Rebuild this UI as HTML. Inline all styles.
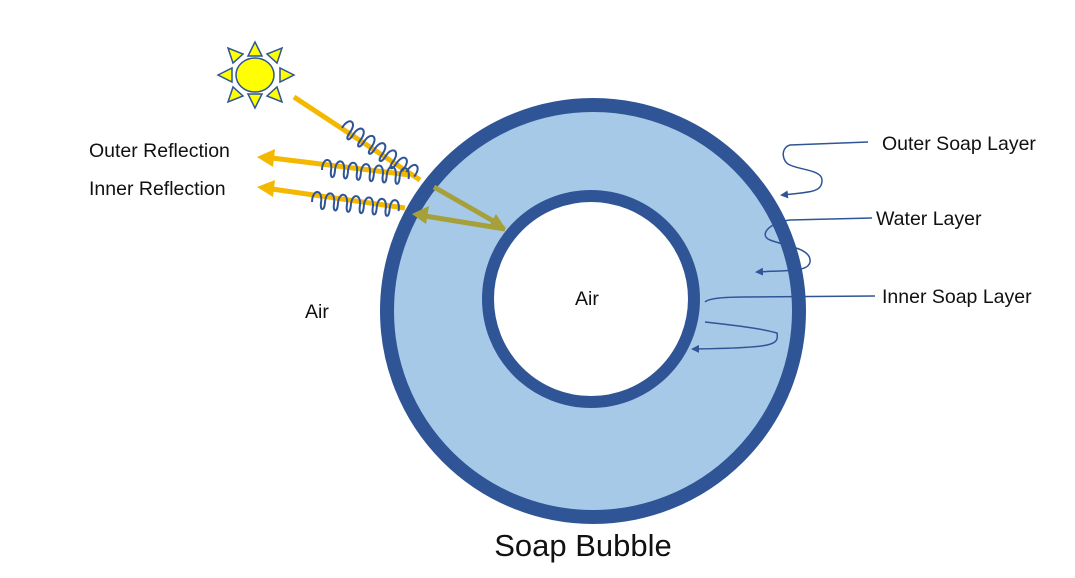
<!DOCTYPE html>
<html><head><meta charset="utf-8"><style>body{margin:0;background:#fff}svg{display:block}text{font-family:"Liberation Sans",sans-serif;fill:#111}</style></head>
<body>
<svg width="1075" height="578" viewBox="0 0 1075 578">
<defs>
<marker id="ab" markerWidth="8" markerHeight="8" refX="6" refY="4" orient="auto" markerUnits="userSpaceOnUse"><path d="M0,0 L8,4 L0,8 z" fill="#2f5597"/></marker>
<path id="wv" d="M0,0 c-1,-14 10,-14 9,0 c0,8 4,8 4,0 c-1,-14 10,-14 9,0 c0,8 4,8 4,0 c-1,-14 10,-14 9,0 c0,8 4,8 4,0 c-1,-14 10,-14 9,0 c0,8 4,8 4,0 c-1,-14 10,-14 9,0 c0,8 4,8 4,0 c-1,-14 10,-14 9,0 c0,8 4,8 4,0 c-1,-14 10,-14 9,0" fill="none" stroke="#2f5597" stroke-width="2"/>
</defs>
<circle cx="593" cy="311" r="206" fill="#a6c9e8" stroke="#2f5597" stroke-width="14"/>
<circle cx="591" cy="299" r="103" fill="#fff" stroke="#2f5597" stroke-width="12"/>
<!-- sun -->
<g fill="#ffff00" stroke="#2f5597" stroke-width="1.5">
<polygon points="255,42 248,56 262,56"/><polygon points="255,108 248,94 262,94"/>
<polygon points="218,75 232,68 232,82"/><polygon points="294,75 280,68 280,82"/>
<polygon points="228,48 233,63 243,54"/><polygon points="282,48 277,63 267,54"/>
<polygon points="228,102 233,87 243,96"/><polygon points="282,102 277,87 267,96"/>
<ellipse cx="255" cy="75" rx="19" ry="17"/>
</g>
<!-- incoming ray -->
<line x1="294" y1="97" x2="420" y2="180" stroke="#f5b800" stroke-width="5"/>
<use href="#wv" transform="translate(342,128) rotate(34)"/>
<!-- reflections -->
<line x1="410" y1="175" x2="272" y2="158" stroke="#f5b800" stroke-width="5"/>
<polygon points="257,157 275,149 273,167" fill="#f5b800"/>
<line x1="405" y1="208" x2="272" y2="189" stroke="#f5b800" stroke-width="5"/>
<polygon points="257,187 275,180 273,197" fill="#f5b800"/>
<use href="#wv" transform="translate(322,170) rotate(6)"/>
<use href="#wv" transform="translate(312,202) rotate(6)"/>
<!-- olive -->
<line x1="434" y1="187" x2="495" y2="222" stroke="#a5a03a" stroke-width="5"/>
<polygon points="506,229 488,228 496,214" fill="#a5a03a"/>
<line x1="505" y1="229" x2="425" y2="216" stroke="#a5a03a" stroke-width="5"/>
<polygon points="412,214 429,206 426,224" fill="#a5a03a"/>
<!-- connectors -->
<g fill="none" stroke="#2f5597" stroke-width="1.5">
<path d="M868,142 L790,145 C780,148 782,162 790,165 C800,170 822,170 822,180 C822,192 812,192 782,195" marker-end="url(#ab)"/>
<path d="M872,218 L790,220 C770,222 758,235 770,240 C785,246 812,248 810,262 C808,272 790,270 757,272" marker-end="url(#ab)"/>
<path d="M875,296 L745,297 C720,297 708,299 705,302"/>
<path d="M705,322 C730,325 760,328 777,333 C779,345 775,348 693,349" marker-end="url(#ab)"/>
</g>
<g font-size="19.5">
<text x="89" y="157">Outer Reflection</text>
<text x="89" y="195">Inner Reflection</text>
<text x="305" y="318">Air</text>
<text x="575" y="305">Air</text>
<text x="882" y="150">Outer Soap Layer</text>
<text x="876" y="225">Water Layer</text>
<text x="882" y="303">Inner Soap Layer</text>
</g>
<text x="583" y="556" font-size="31" text-anchor="middle">Soap Bubble</text>
</svg>
</body></html>
